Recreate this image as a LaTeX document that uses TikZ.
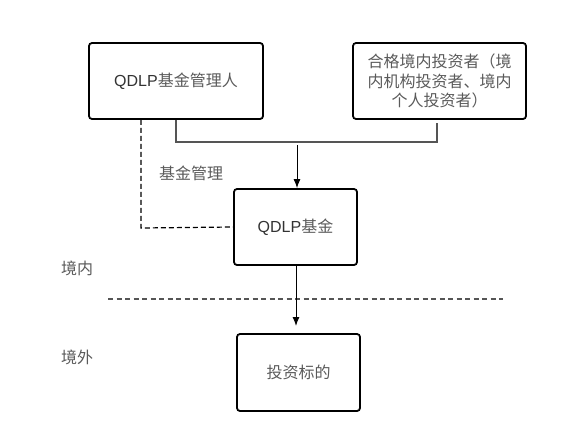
\documentclass[tikz,border=0pt]{standalone}
\usepackage{fontspec}
\setmainfont{Liberation Sans}
\newfontfamily\cjk{Noto Sans CJK SC}
\usetikzlibrary{arrows.meta}
\definecolor{txtgray}{HTML}{5A5A5A}
\definecolor{linegray}{HTML}{555555}
\newcommand{\zh}[1]{{\cjk\color{txtgray}#1}}
\begin{document}
\begin{tikzpicture}[x=1pt,y=-1pt,
  box/.style={draw=black,line width=1.8pt,rounded corners=3pt,inner sep=0pt,
    font=\fontsize{16}{19.5}\selectfont,align=center},
  lbl/.style={font=\fontsize{16}{19.5}\selectfont,inner sep=0pt},
  bracket/.style={draw=linegray,line width=1.4pt},
  arr/.style={draw=black,line width=1pt,-{Latex[length=9pt,width=7pt]}},
  dashln/.style={draw=black,line width=1.2pt,dash pattern=on 5pt off 3pt},
  divider/.style={draw=linegray,line width=1.4pt,dash pattern=on 5pt off 3.5pt}]
\useasboundingbox (0,0) rectangle (577,444);
% boxes
\node[box,minimum width=174pt,minimum height=76pt] (mgr) at (176,81)
  {\color[HTML]{333333}QDLP\zh{基金管理人}};
\node[box,minimum width=173pt,minimum height=76pt] (inv) at (439.5,81)
  {\zh{合格境内投资者（境}\\\zh{内机构投资者、境内}\\\zh{个人投资者）}};
\node[box,minimum width=123pt,minimum height=76pt] (fund) at (295.5,227)
  {\color[HTML]{333333}QDLP\zh{基金}};
\node[box,minimum width=123pt,minimum height=77pt] (tgt) at (298.5,372.5)
  {\zh{投资标的}};
% labels
\node[lbl] (lmgmt) at (191,173) {\zh{基金管理}};
\node[lbl] (lin) at (77,268) {\zh{境内}};
\node[lbl] (lout) at (77,357) {\zh{境外}};
% connector coordinates
\coordinate (j1) at (176,142);
\coordinate (j2) at (437,142);
\coordinate (s2) at (437,123);
\coordinate (a1) at (297,145);
\coordinate (d1) at (141,228);
\coordinate (tip2) at (296,326);
\coordinate (dl) at (108,299);
\coordinate (dr) at (503,299);
% bracket joining the two top boxes
\draw[bracket] (mgr.south -| j1) -- (j1) -- (j2) -- (s2);
\draw[arr] (a1) -- (fund.north -| a1);
% dashed management link
\draw[dashln] (mgr.south -| d1) -- (d1) -- (fund.west);
% border divider
\draw[divider] (dl) -- (dr);
% arrow to investment target
\draw[arr] (fund.south -| tip2) -- (tip2);
\end{tikzpicture}
\end{document}
